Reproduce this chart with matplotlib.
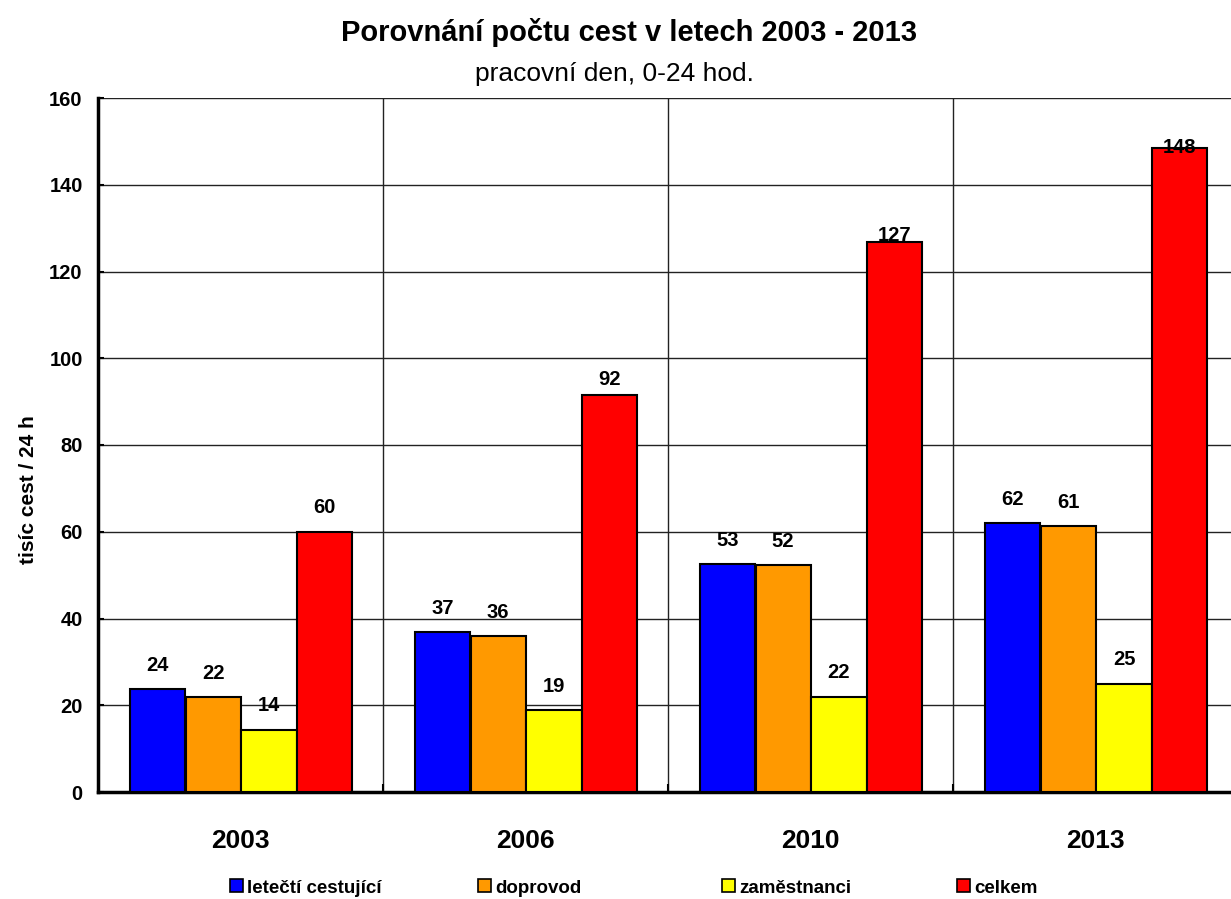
import matplotlib
matplotlib.use("Agg")
import matplotlib.pyplot as plt
import numpy as np
from matplotlib.patches import Patch

plt.rcParams['font.family'] = ['Liberation Sans', 'DejaVu Sans']

# data (thousands of trips / 24 h)
years = ["2003", "2006", "2010", "2013"]
series = ["letečtí cestující", "doprovod", "zaměstnanci", "celkem"]
colors = ["#0000FF", "#FF9900", "#FFFF00", "#FF0000"]

letecti = [23.7, 36.9, 52.5, 62.0]
doprovod = [21.9, 35.9, 52.3, 61.4]
zamestnanci = [14.4, 18.8, 22.0, 25.0]
celkem = [60.0, 91.6, 126.8, 148.4]
values = [letecti, doprovod, zamestnanci, celkem]

# printed labels
labels_letecti = ["24", "37", "53", "62"]
labels_doprovod = ["22", "36", "52", "61"]
labels_zamestnanci = ["14", "19", "22", "25"]
labels_celkem = ["60", "92", "127", "148"]
labels = [labels_letecti, labels_doprovod, labels_zamestnanci, labels_celkem]

fig = plt.figure(figsize=(12.31, 8.99), dpi=100)
ax = fig.add_axes([98 / 1231, 107 / 899, 1140 / 1231, 694 / 899])

x = np.arange(len(years))
width = 0.193
step = 0.196
for i, (vals, col, labs) in enumerate(zip(values, colors, labels)):
    pos = x + (i - 1.5) * step + 0.002
    ax.bar(pos, vals, width, color=col, edgecolor="black", linewidth=1.5, zorder=3)
    for p, v, t in zip(pos, vals, labs):
        off = 5.5 - 0.06 * max(0, v - 60)
        ax.text(p, v + off, t, ha="center", va="center", fontsize=14.5,
                fontweight="bold", zorder=4, clip_on=False)

ax.set_xlim(-0.5, 3.5)
ax.set_ylim(0, 160)
ax.set_yticks(np.arange(0, 161, 20))
ax.set_xticks(x)
ax.set_xticklabels(years, fontsize=19, fontweight="bold")
ax.set_xticks(x[:-1] + 0.5, minor=True)
for lab in ax.get_yticklabels():
    lab.set_fontweight("bold")
    lab.set_fontsize(14.5)

ax.tick_params(axis="y", direction="in", length=4, width=1.5, pad=11)
ax.tick_params(axis="x", which="major", length=0, pad=27)
ax.tick_params(axis="x", which="minor", direction="in", length=6, width=1.5)

ax.grid(axis="y", color="#222222", linewidth=1, zorder=0)
ax.grid(axis="x", which="minor", color="#222222", linewidth=1, zorder=0)
ax.grid(axis="x", which="major", visible=False)
ax.set_axisbelow(True)

for s in ["top", "right"]:
    ax.spines[s].set_visible(False)
ax.spines["left"].set_linewidth(2.5)
ax.spines["bottom"].set_linewidth(2.5)

ax.set_ylabel("tisíc cest / 24 h", fontsize=15, fontweight="bold")
ax.yaxis.set_label_coords(-0.053, 0.435)

fig.text(0.511, 0.964, "Porovnání počtu cest v letech 2003 - 2013",
         ha="center", va="center", fontsize=21, fontweight="bold")
fig.text(0.499, 0.918, "pracovní den, 0-24 hod.", ha="center", va="center",
         fontsize=19)

# legend items spaced evenly along the bottom
leg_x = [230, 478, 722, 957]
for lx, name, col in zip(leg_x, series, colors):
    h = Patch(facecolor=col, edgecolor="black", linewidth=1.2)
    fig.legend([h], [name], loc="center left", bbox_to_anchor=(lx / 1231, 1 - 888 / 899),
               frameon=False, handlelength=0.68, handleheight=0.68, handletextpad=0.25,
               borderpad=0, borderaxespad=0, prop={"weight": "bold", "size": 13.5})

fig.savefig("out.png", dpi=100)
